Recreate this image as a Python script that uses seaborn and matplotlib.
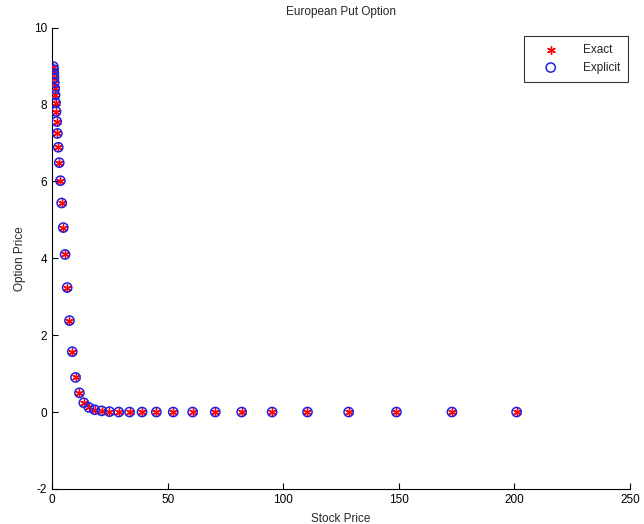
import matplotlib
matplotlib.use("Agg")
import matplotlib.pyplot as plt
import seaborn as sns
import pandas as pd

# Data
stock_price = [0.51, 0.59, 0.69, 0.80, 0.93, 1.08, 1.25, 1.45, 1.69, 1.96,
               2.27, 2.64, 3.07, 3.56, 4.1, 4.8, 5.6, 6.5, 7.5, 8.7,
               10.1, 11.8, 13.7, 15.9, 18.4, 21.4, 24.8, 28.8, 33.5, 38.9,
               45.1, 52.4, 60.8, 70.6, 82.0, 95.2, 110.5, 128.3, 149.0, 173.0,
               201.0]
exact_price = [8.99, 8.91, 8.81, 8.70, 8.57, 8.42, 8.25, 8.05, 7.82, 7.56,
               7.25, 6.89, 6.49, 6.02, 5.44, 4.80, 4.10, 3.24, 2.38, 1.57,
               0.90, 0.50, 0.24, 0.12, 0.06, 0.03, 0.01, 0.0, 0.0, 0.0,
               0.0, 0.0, 0.0, 0.0, 0.0, 0.0, 0.0, 0.0, 0.0, 0.0,
               0.0]
explicit_price = [8.99, 8.91, 8.81, 8.70, 8.57, 8.42, 8.25, 8.05, 7.82, 7.56,
                  7.25, 6.89, 6.49, 6.02, 5.44, 4.80, 4.10, 3.24, 2.38, 1.57,
                  0.90, 0.50, 0.24, 0.12, 0.06, 0.03, 0.01, 0.0, 0.0, 0.0,
                  0.0, 0.0, 0.0, 0.0, 0.0, 0.0, 0.0, 0.0, 0.0, 0.0,
                  0.0]
x_ticks = [0, 50, 100, 150, 200, 250]
y_ticks = [-2, 0, 2, 4, 6, 8, 10]

sns.set_style("ticks")
plt.rcParams['font.family'] = ['Liberation Sans', 'DejaVu Sans']
plt.rcParams['xtick.direction'] = 'in'
plt.rcParams['ytick.direction'] = 'in'
plt.rcParams['axes.unicode_minus'] = False

df = pd.DataFrame({"S": stock_price, "exact": exact_price, "explicit": explicit_price})

fig = plt.figure(figsize=(6.44, 5.24), dpi=100)
ax = fig.add_axes([0.081, 0.067, 0.897, 0.880])

sns.scatterplot(data=df, x="S", y="exact", ax=ax, marker=(6, 2, 0), s=30,
                color="#ff0000", linewidth=1.0, label="Exact", zorder=3)
sns.scatterplot(data=df, x="S", y="explicit", ax=ax, marker="o", s=44,
                facecolors="none", edgecolor="#2020e0", linewidth=1.1,
                label="Explicit", zorder=4)

ax.set_xlim(0, 250)
ax.set_ylim(-2, 10)
ax.set_xticks(x_ticks)
ax.set_yticks(y_ticks)
ax.tick_params(labelsize=8.5, length=4, width=0.8, colors="black")
for s in ["top", "right"]:
    ax.spines[s].set_visible(False)
for s in ["left", "bottom"]:
    ax.spines[s].set_linewidth(0.8)
    ax.spines[s].set_color("black")

ax.set_title("European Put Option", fontsize=8.5, pad=9)
ax.set_xlabel("Stock Price", fontsize=8.5, labelpad=5)
ax.set_ylabel("Option Price", fontsize=8.5, labelpad=6)

leg = ax.legend(loc="upper right", bbox_to_anchor=(0.997, 0.982), fontsize=8.5,
                frameon=True, fancybox=False, edgecolor="black",
                handletextpad=1.1, handlelength=3.2, borderpad=0.7,
                labelspacing=0.45, borderaxespad=0.0)
leg.get_frame().set_linewidth(0.8)

fig.savefig("out.png", dpi=100)
